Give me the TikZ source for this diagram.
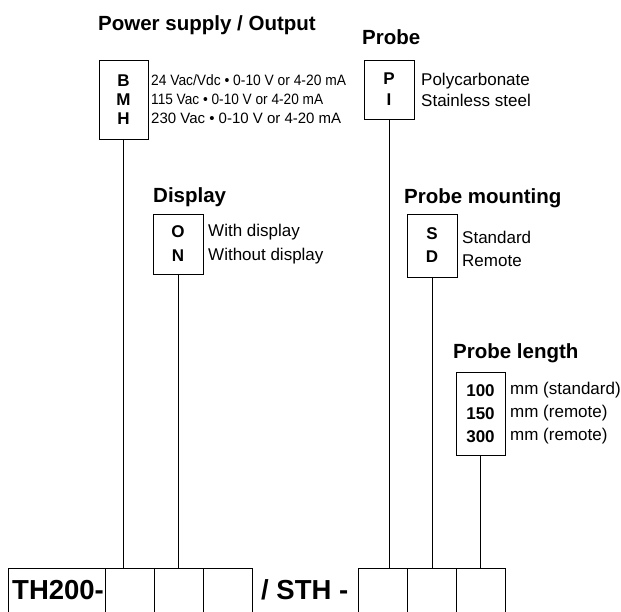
\documentclass[tikz,border=0pt]{standalone}
\usepackage{fontspec}
\setmainfont{Liberation Sans}
\usepackage{graphicx}
\usepackage{tikz}
\usetikzlibrary{positioning}

\begin{document}
\begin{tikzpicture}[x=1pt,y=-1pt,
	    optbox/.style={draw, line width=0.8pt, inner sep=0pt, outer sep=0pt, align=center, font=\bfseries\fontsize{17}{#1}\selectfont},
	    opttext/.style={inner sep=0pt, align=left, font=\fontsize{17}{#1}\selectfont},
	    title/.style={inner sep=0pt, anchor=base west, font=\bfseries\fontsize{20.5}{24}\selectfont},
	    cell/.style={draw, line width=0.8pt, inner sep=0pt, outer sep=0pt, minimum width=49, minimum height=60, anchor=north west},
	    code/.style={inner sep=0pt, anchor=base west, font=\bfseries\fontsize{27.5}{30}\selectfont}]
	    \clip (0,0) rectangle (621,612);
	    % option boxes
	    \node[optbox=19, minimum width=49, minimum height=79] (psbox) at (123.5,99.5) {B\\M\\H};
	    \node[optbox=21, minimum width=50, minimum height=59] (probebox) at (389,89.5) {P\\I};
	    \node[optbox=24, minimum width=50, minimum height=60] (dispbox) at (178,244) {O\\N};
	    \node[optbox=23, minimum width=50, minimum height=63] (mountbox) at (432,245.5) {S\\D};
	    \node[optbox=23, minimum width=49, minimum height=83] (lenbox) at (480.5,413.5) {100\\150\\300};
	    % titles
	    \node[title] (pstitle) at (98,31) {Power supply / Output};
	    \node[title] (probetitle) at (362,45) {Probe};
	    \node[title] (disptitle) at (153,203) {Display};
	    \node[title] (mounttitle) at (404,204) {Probe mounting};
	    \node[title] (lentitle) at (453,358) {Probe length};
	    % descriptions
	    \node[opttext=19, font=\fontsize{15}{19}\selectfont, right=3pt of psbox] (pstext) {\scalebox{0.92}[1]{24 Vac/Vdc • 0-10 V or 4-20 mA}\\\scalebox{0.91}[1]{115 Vac • 0-10 V or 4-20 mA}\\230 Vac • 0-10 V or 4-20 mA};
	    \node[opttext=21, right=7pt of probebox] (probetext) {Polycarbonate\\Stainless steel};
	    \node[opttext=24, right=5pt of dispbox] (disptext) {With display\\Without display};
	    \node[opttext=23, right=5pt of mountbox, yshift=-3pt] (mounttext) {Standard\\Remote};
	    \node[opttext=23, right=5pt of lenbox] (lentext) {mm (standard)\\mm (remote)\\mm (remote)};
	    % order code
	    \node[cell, minimum width=97] (thbox) at (8,568) {};
	    \node[code] (thlabel) at (12,599) {TH200-};
	    \node[cell, right=0pt of thbox.north east, anchor=north west] (c1) {};
	    \node[cell, right=0pt of c1.north east, anchor=north west] (c2) {};
	    \node[cell, right=0pt of c2.north east, anchor=north west] (c3) {};
	    \node[code] (sthlabel) at (261,599) {/ STH -};
	    \node[cell] (c4) at (358,568) {};
	    \node[cell, right=0pt of c4.north east, anchor=north west] (c5) {};
	    \node[cell, right=0pt of c5.north east, anchor=north west] (c6) {};
	    % leader lines
	    \draw[line width=0.8pt] (psbox.south) -- (psbox.south |- c1.north);
	    \draw[line width=0.8pt] (dispbox.south) -- (dispbox.south |- c2.north);
	    \draw[line width=0.8pt] (probebox.south) -- (probebox.south |- c4.north);
	    \draw[line width=0.8pt] (mountbox.south) -- (mountbox.south |- c5.north);
	    \draw[line width=0.8pt] (lenbox.south) -- (lenbox.south |- c6.north);
\end{tikzpicture}
\end{document}
